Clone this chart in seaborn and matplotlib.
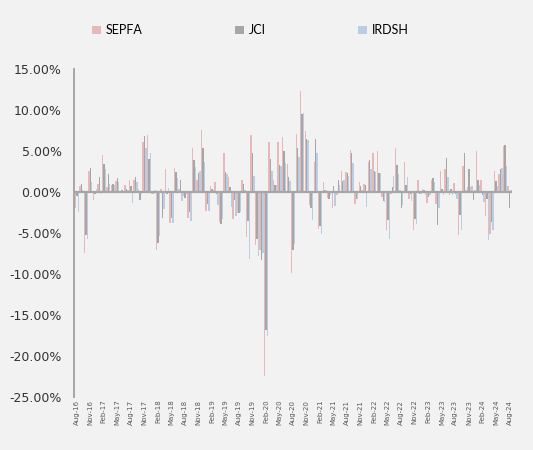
import pandas as pd
import numpy as np
import matplotlib
matplotlib.use("Agg")
import matplotlib.pyplot as plt
import seaborn as sns

# monthly returns (%) from Aug-16 to Aug-24
months = pd.date_range("2016-08-01", "2024-08-01", freq="MS").strftime("%b-%y").tolist()

sepfa = [-2.0, 0.7, -7.4, 2.6, -1.0, 1.0, 4.5, 0.6, 0.8, 1.3, 0.1, 0.8, 1.5, 1.4, 0.3, 6.1,
         6.9, -0.2, -7.1, 0.3, 2.8, -3.8, 2.9, 0.3, -0.5, -3.2, 5.4, 1.4, 7.5, -2.3, 0.7, 1.2,
         -3.7, 4.8, 1.8, -3.3, -2.6, 1.5, -5.5, 6.9, -6.5, -7.1, -22.4, 6.1, 1.4, 6.1, 6.7, 3.4,
         -9.9, 7.0, 12.3, 7.4, -1.6, 3.6, -4.5, 1.2, -0.7, -2.0, -0.4, 2.6, 2.4, 5.1, -1.5, 1.2,
         0.9, 3.6, 4.8, 5.0, -0.6, -4.6, -0.2, 5.4, 0.2, 3.7, -0.9, -4.6, 1.4, 0.3, -1.3, 1.5,
         -1.5, 2.6, 2.8, -0.4, 1.1, -5.2, 3.1, 0.6, 0.7, 5.0, 1.5, -3.0, -5.1, 2.5, 2.2, 5.6, 0.7]
jci = [-0.5, 1.0, -5.2, 2.9, -0.3, 1.8, 3.4, 2.2, 0.9, 1.7, 0.2, 0.4, 0.7, 1.8, -1.0, 6.8,
       4.0, -0.2, -6.2, -3.2, -0.2, -3.2, 2.4, 1.4, -0.7, -2.4, 3.9, 2.3, 5.4, -1.5, 0.4, -0.3,
       -3.9, 2.4, 0.6, -1.0, -2.6, 0.9, -3.5, 4.8, -5.8, -8.3, -16.8, 4.0, 0.8, 3.3, 5.0, 1.8,
       -7.1, 5.3, 9.5, 6.5, -2.0, 6.5, -4.2, 0.2, -0.9, 0.7, 1.4, 1.3, 2.3, 4.8, -0.9, 0.7,
       0.8, 3.9, 2.6, 2.3, -1.1, -3.4, 0.6, 3.3, -2.0, 0.8, -0.2, -3.3, -0.2, 0.2, -0.6, 1.7,
       -4.1, 0.4, 4.1, 0.3, -0.2, -2.8, 4.8, 2.8, -1.0, 1.5, -0.4, -0.9, -3.7, 1.3, 2.8, 5.7, -2.0]
irdsh = [-2.4, 0.2, -5.8, 1.2, 0.3, -0.3, 2.8, 0.9, 0.8, 1.2, 0.1, 0.2, -1.3, 1.2, -0.3, 5.4,
         4.7, 0.2, -5.4, -2.1, 0.5, -3.8, 1.7, -1.1, -0.3, -3.5, 3.0, 2.6, 3.6, -2.3, 0.2, -1.6,
         -3.3, 2.2, -1.8, -3.0, -2.4, 0.2, -8.2, 1.9, -7.8, -7.4, -17.6, 2.6, 0.8, 3.1, 3.5, 1.3,
         -6.4, 4.3, 9.6, 6.3, -3.4, 4.8, -5.1, 0.2, -0.4, -1.7, 0.8, 1.5, 1.9, 3.5, -0.9, 0.2,
         -1.8, 2.8, 2.4, 2.3, -1.2, -5.7, 1.9, 2.2, -1.6, 1.8, -1.1, -3.9, -0.2, -0.4, -0.4, 1.2,
         -2.0, -0.4, 1.8, -0.4, -0.9, -4.6, 0.2, 0.6, 0.2, 0.8, -1.2, -5.9, -4.6, 0.7, 2.9, 3.1, 0.2]

series = ["SEPFA", "JCI", "IRDSH"]
colors = ["#E6B9B8", "#A6A6A6", "#B9CDE5"]

df = pd.DataFrame({"Month": months, "SEPFA": sepfa, "JCI": jci, "IRDSH": irdsh})
long_df = df.melt(id_vars="Month", var_name="Index", value_name="Return")

bg = "#F2F2F2"
fig = plt.figure(figsize=(5.33, 4.5), dpi=100, facecolor=bg)
ax = fig.add_axes([0.139, 0.118, 0.822, 0.729])
ax.set_facecolor(bg)

sns.barplot(data=long_df, x="Month", y="Return", hue="Index", order=months,
            hue_order=series, palette=colors, width=0.95, gap=0,
            saturation=1, linewidth=0, ax=ax)

ax.axhline(0, color="#A6A6A6", lw=1.6, zorder=5)
ax.set_ylim(-25, 15)
ax.set_xlim(-0.6, len(months) - 0.4)
ax.set_yticks(np.arange(-25, 16, 5))
ax.set_yticklabels([f"{v:.2f}%" for v in np.arange(-25, 16, 5)],
                   fontsize=9, color="#333333", family="DejaVu Sans")
ax.set_xticks(range(0, len(months), 3))
ax.set_xticklabels(months[::3], rotation=90, fontsize=5, color="#595959")
ax.tick_params(axis="both", length=0)
ax.tick_params(axis="y", pad=9)
ax.tick_params(axis="x", pad=2)
ax.set_xlabel("")
ax.set_ylabel("")

for s in ["top", "right", "bottom"]:
    ax.spines[s].set_visible(False)
ax.spines["left"].set_color("#A6A6A6")
ax.spines["left"].set_linewidth(1.4)

handles, labels = ax.get_legend_handles_labels()
ax.get_legend().remove()
fig.legend(handles, labels, loc="center", bbox_to_anchor=(0.47, 0.933), ncol=3,
           frameon=False, prop={"family": "Lato", "size": 9},
           handlelength=0.7, handleheight=0.6, handletextpad=0.4, columnspacing=7.4)

fig.savefig("out.png", dpi=100, facecolor=bg)
